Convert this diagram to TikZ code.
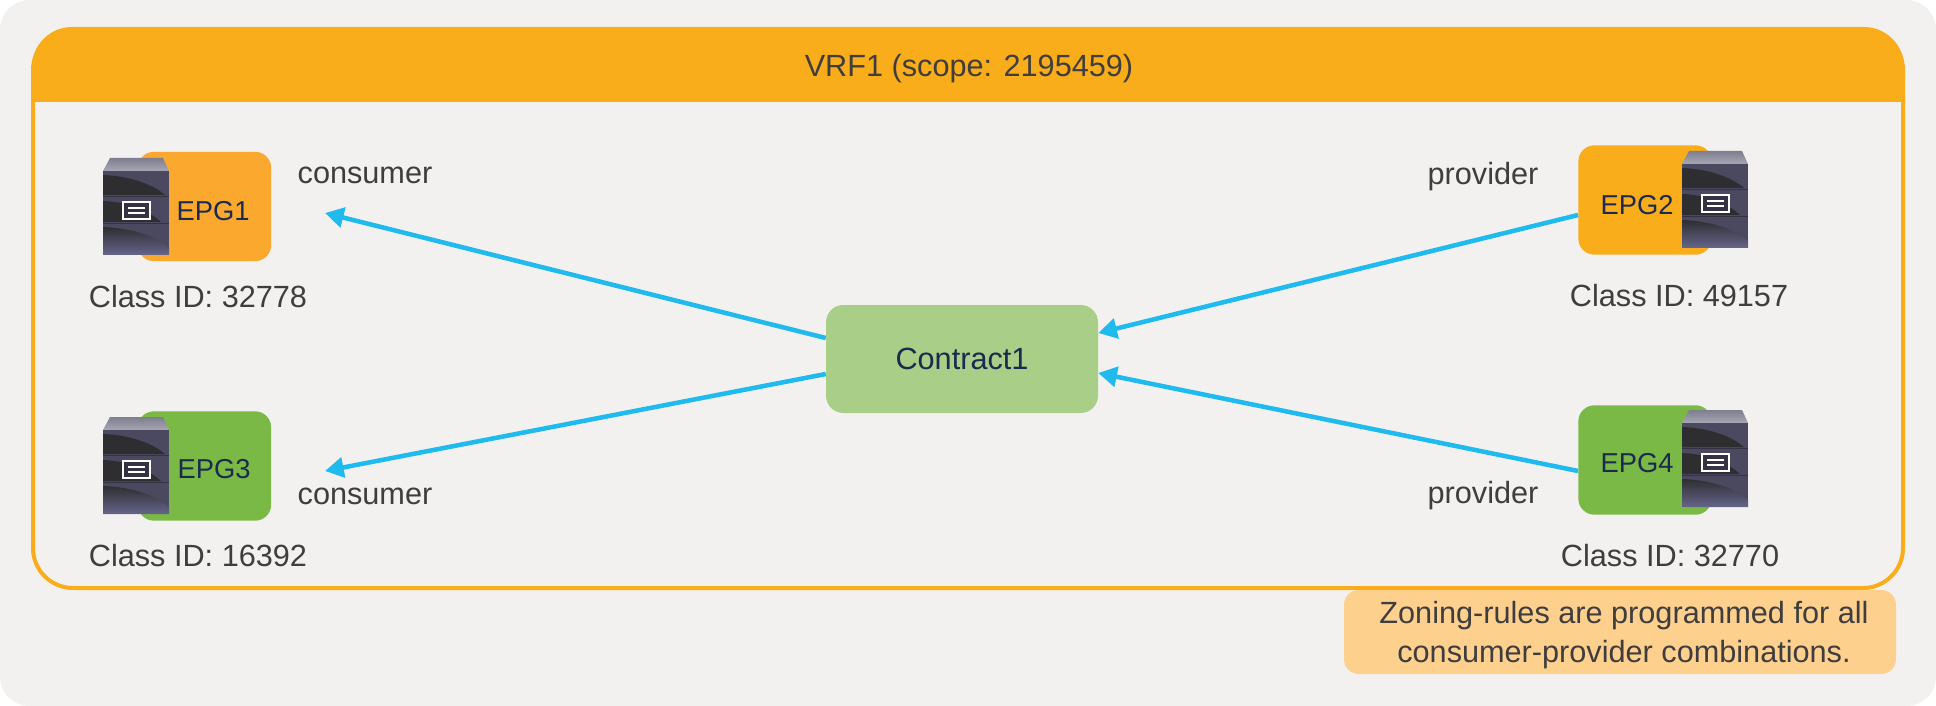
\documentclass[tikz,border=0pt]{standalone}
\usepackage{fontspec}
\setmainfont{Liberation Sans}
\usetikzlibrary{arrows.meta,positioning,calc}
\definecolor{panelgray}{HTML}{F3F1EF}
\definecolor{vrforange}{HTML}{F9AD1B}
\definecolor{epgorange}{HTML}{FBA82E}
\definecolor{epggreen}{HTML}{7AB945}
\definecolor{contractgreen}{HTML}{A9CE87}
\definecolor{noteorange}{HTML}{FDD08E}
\definecolor{arrowblue}{HTML}{1FBBEE}
\definecolor{labelgray}{HTML}{3F3D3D}
\definecolor{boxnavy}{HTML}{1B2A4E}
\definecolor{lidtop}{HTML}{7E7E8E}
\definecolor{lidlow}{HTML}{A6A6B4}
\definecolor{baylight}{HTML}{4B4960}
\definecolor{baydark}{HTML}{2E2E31}
\definecolor{bayglow}{HTML}{65658A}
\tikzset{
  epgbox/.style={minimum width=100pt, minimum height=82pt, inner sep=0pt, rounded corners=12pt},
  boxtext/.style={text=boxnavy, font=\fontsize{23}{27}\selectfont},
  epgtext/.style={text=boxnavy, font=\fontsize{20.5}{24}\selectfont},
  plaintext/.style={text=labelgray, font=\fontsize{23}{27}\selectfont},
  contractbox/.style={fill=contractgreen, minimum width=204pt, minimum height=81pt, inner sep=0pt, rounded corners=13pt},
  notebox/.style={fill=noteorange, minimum width=414pt, minimum height=63pt, inner sep=0pt, rounded corners=11pt},
  relation/.style={arrowblue, line width=3.4pt, -{Triangle[length=14pt,width=15pt]}},
  servericon/.pic={
    % top lid
    \shade[top color=lidtop, bottom color=lidlow] (7,0) -- (60,0) -- (66,13) -- (0,13) -- cycle;
    % body
    \fill[baylight] (0,13) rectangle (66,97);
    \fill[baydark] (0,17) .. controls (25,18) and (48,25) .. (62,37) -- (0,37) -- cycle;
    \fill[baydark] (0,43) .. controls (25,44) and (45,52) .. (58,64) -- (0,64) -- cycle;
    \shade[top color=baydark, bottom color=bayglow] (0,69) .. controls (25,70) and (50,76) .. (66,90) -- (66,97) -- (0,97) -- cycle;
    \draw[baylight!70!black, line width=0.8pt] (0,38.5) -- (66,38.5) (0,65.5) -- (66,65.5);
    % name plate
    \draw[white, line width=1.3pt, fill=baylight!70!black] (20,44) rectangle (47,61);
    \draw[white, line width=1pt] (25,50) -- (42,50) (25,55) -- (42,55);
  }
}
\begin{document}
\begin{tikzpicture}[x=0.75pt, y=-0.75pt]
  \useasboundingbox (0,0) rectangle (1936,706);
  % Panel and VRF frame
  \fill[panelgray, rounded corners=22pt] (0,0) rectangle (1936,706);
  \draw[vrforange, line width=3pt, rounded corners=30pt] (33,30) rectangle (1903,588);
  \fill[vrforange] (32,102) {[rounded corners=30pt] -- (32,27) -- (1904,27)} -- (1904,102) -- cycle;
  \node[plaintext] (vrftitle) at (969,69) {VRF1 (scope: 2195459)};
  % EPG boxes
  \node[epgbox, fill=epgorange] (epgone) at (204.5,206.5) {};
  \node[epgbox, fill=vrforange] (epgtwo) at (1645,200) {};
  \node[epgbox, fill=epggreen] (epgthree) at (204.5,466) {};
  \node[epgbox, fill=epggreen] (epgfour) at (1645,460) {};
  \foreach \x/\y/\label in {213/211/EPG1, 1637/205/EPG2, 214/469/EPG3, 1637/463/EPG4} {
    \node[epgtext] at (\x,\y) {\label};
  }
  % Servers
  \foreach \x/\y in {103/158, 1682/151, 103/417, 1682/410} {
    \pic at (\x,\y) {servericon};
  }
  % Class IDs and roles
  \foreach \x/\y/\label in {198/297/32778, 1679/296/49157, 198/556/16392, 1670/556/32770} {
    \node[plaintext] at (\x,\y) {Class ID: \label};
  }
  \foreach \x/\y/\label in {365/175/consumer, 365/496/consumer, 1483/177/provider, 1483/496/provider} {
    \node[plaintext] at (\x,\y) {\label};
  }
  % Contract and connectors
  \node[contractbox] (contract) at (962,359) {};
  \node[boxtext] (contractname) at (962,359) {Contract1};
  \coordinate (consumerone) at (325,213);
  \coordinate (consumerthree) at (325,471);
  \draw[relation] ([yshift=15.75pt]contract.west) -- (consumerone);
  \draw[relation] ([yshift=-11.25pt]contract.west) -- (consumerthree);
  \draw[relation] ([yshift=-11.25pt]epgtwo.west) -- ([yshift=19.5pt]contract.east);
  \draw[relation] ([yshift=-8.25pt]epgfour.west) -- ([yshift=-10.5pt]contract.east);
  % Note
  \node[notebox] (note) at (1620,632) {};
  \node[plaintext, align=center, font=\fontsize{23}{29}\selectfont] (notetext) at (1624,635) {Zoning-rules are programmed for all\\consumer-provider combinations.};
\end{tikzpicture}
\end{document}
